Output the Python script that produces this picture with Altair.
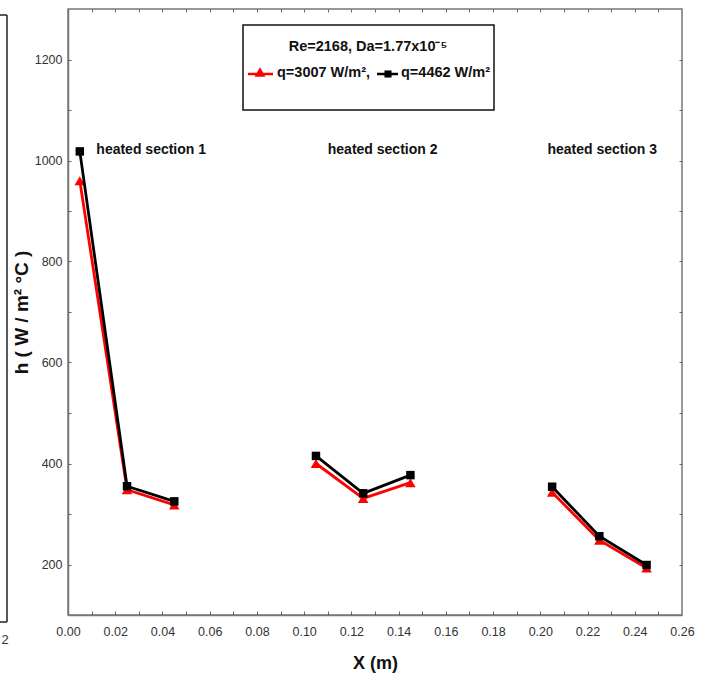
import altair as alt
import pandas as pd

# ---- data ----
x_m = [0.005, 0.025, 0.045, 0.105, 0.125, 0.145, 0.205, 0.225, 0.245]
h_q3007 = [960, 348, 318, 400, 331, 362, 343, 248, 193]
h_q4462 = [1018, 355, 325, 415, 341, 377, 354, 256, 199]
section_id = [1, 1, 1, 2, 2, 2, 3, 3, 3]

section_labels = ["heated section 1", "heated section 2", "heated section 3"]
section_label_x = [0.012, 0.110, 0.203]
section_label_y = [1021, 1021, 1021]

x_tick_values = [0.00, 0.02, 0.04, 0.06, 0.08, 0.10, 0.12, 0.14, 0.16, 0.18, 0.20, 0.22, 0.24, 0.26]
x_minor_values = [0.01, 0.02, 0.03, 0.04, 0.05, 0.06, 0.07, 0.08, 0.09, 0.10, 0.11, 0.12, 0.13,
                  0.14, 0.15, 0.16, 0.17, 0.18, 0.19, 0.20, 0.21, 0.22, 0.23, 0.24, 0.25]
y_tick_values = [200, 400, 600, 800, 1000, 1200]
y_minor_values = [200, 300, 400, 500, 600, 700, 800, 900, 1000, 1100, 1200]

legend_title = "Re=2168, Da=1.77x10\u207b\u2075"
legend_q1 = "q=3007 W/m\u00b2,"
legend_q2 = "q=4462 W/m\u00b2"

df = pd.DataFrame({"x": x_m, "h3007": h_q3007, "h4462": h_q4462, "section": section_id})
df_lab = pd.DataFrame({"x": section_label_x, "y": section_label_y, "t": section_labels})
one = pd.DataFrame({"k": [0]})

W, H = 614, 606
SANS = "Liberation Sans, Arial, sans-serif"
RED = "#ff0000"

xscale = alt.Scale(domain=[0, 0.26], nice=False, zero=False)
yscale = alt.Scale(domain=[100, 1300], nice=False, zero=False)

main_x = alt.Axis(orient="bottom", values=x_tick_values, format=".2f", ticks=False, grid=False,
                  labelFlush=False, labelOverlap=False,
                  title="X (m)", titleFont=SANS, titleFontSize=18, titleFontWeight="bold",
                  titleColor="#111", titleY=48, titleBaseline="middle",
                  labelFont=SANS, labelFontSize=12.5, labelColor="#333", labelPadding=10,
                  domainColor="#777", domainWidth=1.5)
main_y = alt.Axis(orient="left", values=y_tick_values, format="d", ticks=False, grid=False,
                  labelFlush=False, labelOverlap=False,
                  title="h ( W / m\u00b2 \u00b0C )", titleFont=SANS, titleFontSize=19,
                  titleFontWeight="bold", titleColor="#111", titleAngle=270,
                  titleX=-47, titleY=303, titleBaseline="middle", titleAlign="center",
                  labelFont=SANS, labelFontSize=12.5, labelColor="#333", labelPadding=6,
                  domainColor="#777", domainWidth=1.5)

# inward ticks placed on the frame by offsetting opposite-oriented axes
in_bottom = alt.Axis(orient="top", offset=-H, values=x_minor_values, labels=False, domain=False,
                     grid=False, title=None, tickColor="#666", tickWidth=1, tickSize=4)
in_top = alt.Axis(orient="bottom", offset=-H, values=x_minor_values, labels=False, domain=False,
                  grid=False, title=None, tickColor="#666", tickWidth=1, tickSize=3)
in_left = alt.Axis(orient="right", offset=-W, values=y_minor_values, labels=False, domain=False,
                   grid=False, title=None, tickColor="#666", tickWidth=1, tickSize=3)
in_right = alt.Axis(orient="left", offset=-W, values=y_minor_values, labels=False, domain=False,
                    grid=False, title=None, tickColor="#666", tickWidth=1, tickSize=3)

base = alt.Chart(df)

red_line = base.mark_line(color=RED, strokeWidth=2.8).encode(
    x=alt.X("x:Q", scale=xscale, axis=main_x),
    y=alt.Y("h3007:Q", scale=yscale, axis=main_y),
    detail="section:N",
)
red_pts = base.mark_point(shape="triangle-up", filled=True, size=110, color=RED, opacity=1).encode(
    x=alt.X("x:Q", scale=xscale, axis=in_bottom),
    y=alt.Y("h3007:Q", scale=yscale, axis=in_left),
)
black_line = base.mark_line(color="#000000", strokeWidth=2.8).encode(
    x=alt.X("x:Q", scale=xscale, axis=in_top),
    y=alt.Y("h4462:Q", scale=yscale, axis=in_right),
    detail="section:N",
)
black_pts = base.mark_point(shape="square", filled=True, size=72, color="#000000", opacity=1).encode(
    x=alt.X("x:Q", scale=xscale, axis=None),
    y=alt.Y("h4462:Q", scale=yscale, axis=None),
)
labels = alt.Chart(df_lab).mark_text(align="left", baseline="middle", font=SANS, fontSize=14,
                                     fontWeight="bold", color="#111").encode(
    x=alt.X("x:Q", scale=xscale, axis=None),
    y=alt.Y("y:Q", scale=yscale, axis=None),
    text="t:N",
)

# ---- legend box (decoration, pixel placed) ----
lg = alt.Chart(one)
box = lg.mark_rect(fill="white", stroke="#111", strokeWidth=1.5).encode(
    x=alt.value(175), x2=alt.value(426), y=alt.value(16), y2=alt.value(101))
lg_title = lg.mark_text(align="center", baseline="middle", font=SANS, fontSize=14.5, fontWeight="bold",
                        color="#111").encode(x=alt.value(300), y=alt.value(38), text=alt.value(legend_title))
lg_r_line = lg.mark_rule(color=RED, strokeWidth=2.5).encode(
    x=alt.value(180), x2=alt.value(205), y=alt.value(65))
lg_r_pt = lg.mark_point(shape="triangle-up", filled=True, size=120, color=RED, opacity=1).encode(
    x=alt.value(192), y=alt.value(63))
lg_t1 = lg.mark_text(align="left", baseline="middle", font=SANS, fontSize=14.5, fontWeight="bold",
                     color="#111").encode(x=alt.value(209), y=alt.value(64), text=alt.value(legend_q1))
lg_b_line = lg.mark_rule(color="#000", strokeWidth=2.5).encode(
    x=alt.value(309), x2=alt.value(330), y=alt.value(65))
lg_b_pt = lg.mark_point(shape="square", filled=True, size=50, color="#000", opacity=1).encode(
    x=alt.value(320), y=alt.value(65))
lg_t2 = lg.mark_text(align="left", baseline="middle", font=SANS, fontSize=14.5, fontWeight="bold",
                     color="#111").encode(x=alt.value(333), y=alt.value(64), text=alt.value(legend_q2))

# ---- cropped neighbour frame at the far left ----
edge_v = lg.mark_rule(color="#222", strokeWidth=1.5).encode(
    x=alt.value(-61), y=alt.value(6), y2=alt.value(613))
edge_t = lg.mark_rule(color="#222", strokeWidth=1.5).encode(
    x=alt.value(-70), x2=alt.value(-61), y=alt.value(6))
edge_b = lg.mark_rule(color="#222", strokeWidth=1.5).encode(
    x=alt.value(-70), x2=alt.value(-61), y=alt.value(613))
edge_txt = lg.mark_text(align="center", baseline="middle", font=SANS, fontSize=13,
                        color="#333").encode(x=alt.value(-63), y=alt.value(631), text=alt.value("2"))

chart = alt.layer(
    red_line, red_pts, black_line, black_pts, labels,
    box, lg_title, lg_r_line, lg_r_pt, lg_t1, lg_b_line, lg_b_pt, lg_t2,
    edge_v, edge_t, edge_b, edge_txt,
).resolve_scale(x="shared", y="shared").resolve_axis(
    x="independent", y="independent"
).properties(
    width=W, height=H,
    autosize=alt.AutoSizeParams(type="none"),
    padding={"left": 68, "top": 9, "right": 26, "bottom": 65},
    background="white",
).configure_view(stroke="#777", strokeWidth=1.5)

chart.save("out.html", embed_options={"renderer": "svg", "actions": False})
